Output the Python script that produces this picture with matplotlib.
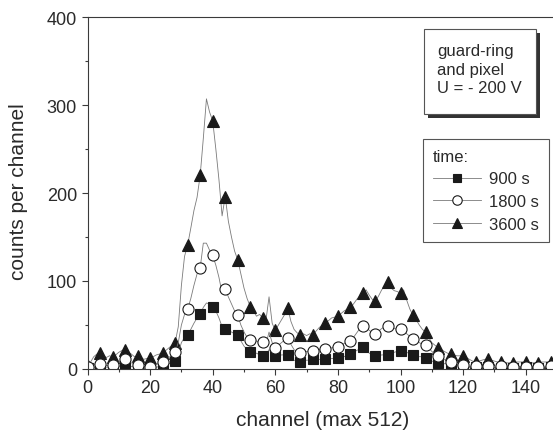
"""Spectra for guard-ring and pixel at U = -200 V, three measuring times."""

import matplotlib

matplotlib.use("Agg")
import matplotlib.pyplot as plt
from matplotlib.patches import Rectangle
from matplotlib.ticker import MultipleLocator

# counts per channel, channels 0..149 (markers on every 4th channel)
counts_900 = [
    1, 1, 2, 2, 2, 2, 2, 2, 2, 3, 3, 4, 4, 3, 3, 2, 2, 2, 1, 1,
    1, 2, 2, 3, 3, 4, 6, 7, 9, 18, 30, 36, 39, 45, 52, 58, 62, 70, 75, 74,
    71, 66, 58, 48, 45, 44, 42, 40, 39, 32, 26, 22, 19, 17, 18, 16, 15, 16, 22, 17,
    15, 15, 16, 16, 16, 13, 10, 9, 8, 9, 10, 10, 11, 11, 11, 11, 11, 12, 12, 12,
    12, 13, 14, 16, 17, 19, 21, 23, 25, 22, 18, 16, 15, 15, 16, 16, 16, 18, 19, 20,
    21, 20, 19, 17, 16, 15, 14, 14, 13, 11, 9, 8, 7, 7, 6, 6, 6, 5, 4, 3,
    2, 2, 2, 2, 2, 2, 1, 1, 2, 2, 1, 1, 1, 1, 2, 2, 1, 1, 1, 1,
    2, 2, 1, 1, 1, 1, 2, 2, 2, 1,
]
counts_1800 = [
    2, 3, 5, 6, 6, 5, 4, 4, 4, 6, 8, 10, 11, 9, 7, 6, 5, 4, 3, 2,
    2, 3, 5, 7, 8, 10, 13, 16, 19, 30, 50, 62, 68, 80, 95, 108, 115, 143, 143, 135,
    129, 118, 104, 86, 91, 82, 74, 66, 61, 50, 42, 36, 33, 30, 32, 29, 31, 28, 42, 30,
    24, 27, 30, 33, 35, 28, 22, 19, 18, 19, 20, 20, 21, 22, 22, 23, 23, 24, 24, 25,
    25, 27, 29, 31, 32, 36, 41, 46, 49, 48, 44, 41, 40, 43, 46, 48, 49, 47, 46, 45,
    45, 44, 40, 37, 34, 32, 30, 28, 27, 24, 20, 17, 15, 13, 11, 9, 8, 6, 5, 4,
    4, 3, 3, 3, 3, 3, 2, 2, 3, 3, 2, 2, 3, 3, 2, 2, 2, 3, 3, 2,
    2, 2, 3, 3, 2, 2, 2, 3, 3, 2,
]
counts_3600 = [
    3, 8, 14, 17, 18, 16, 13, 15, 14, 16, 19, 21, 22, 19, 17, 14, 15, 13, 11, 12,
    12, 14, 16, 17, 18, 21, 24, 27, 30, 48, 95, 128, 141, 160, 180, 195, 220, 262, 307, 292,
    282, 250, 215, 174, 196, 168, 150, 134, 124, 108, 92, 80, 71, 66, 60, 62, 58, 55, 82, 52,
    44, 50, 56, 62, 69, 54, 45, 41, 39, 40, 38, 40, 39, 43, 47, 50, 52, 55, 58, 59,
    60, 63, 66, 68, 70, 74, 79, 83, 86, 90, 84, 79, 77, 83, 90, 95, 99, 92, 89, 88,
    86, 90, 78, 68, 61, 56, 50, 45, 42, 36, 30, 27, 24, 22, 20, 18, 17, 16, 15, 15,
    15, 13, 11, 9, 8, 9, 10, 11, 11, 10, 9, 8, 8, 8, 7, 7, 7, 8, 8, 8,
    8, 7, 7, 7, 7, 8, 8, 8, 8, 7,
]
channels = list(range(len(counts_3600)))

series = [
    ("3600 s", counts_3600, "^", "#1a1a1a", 8.6),
    ("900 s", counts_900, "s", "#1a1a1a", 7.0),
    ("1800 s", counts_1800, "o", "white", 8.0),
]
legend_order = ["900 s", "1800 s", "3600 s"]
info_text = "guard-ring\nand pixel\nU = - 200 V"

W, H = 553, 439
plt.rcParams["font.family"] = ["Liberation Sans", "DejaVu Sans"]
text_color = "#2a2a2a"
axis_color = "#3a3a3a"


def fx(px):
    return px / W


def fy(py):
    return 1 - py / H


fig = plt.figure(figsize=(W / 100, H / 100), dpi=100)
ax = fig.add_axes([fx(87.5), fy(370), fx(557 - 87.5), (370 - 18) / H])

handles = {}
for label, values, marker, face, size in series:
    (line,) = ax.plot(
        channels,
        values,
        color="#7a7a7a",
        linewidth=0.6,
        marker=marker,
        markevery=4,
        markersize=size,
        markerfacecolor=face,
        markeredgecolor="#1a1a1a",
        markeredgewidth=0.8,
        label=label,
    )
    handles[label] = line

ax.set_xlim(0, 150)
ax.set_ylim(0, 400)
ax.xaxis.set_major_locator(MultipleLocator(20))
ax.xaxis.set_minor_locator(MultipleLocator(10))
ax.yaxis.set_major_locator(MultipleLocator(100))
ax.yaxis.set_minor_locator(MultipleLocator(50))
ax.tick_params(which="both", direction="out", color=axis_color, width=0.8,
               labelsize=13, labelcolor=text_color)
ax.tick_params(which="major", length=4.5, pad=3)
ax.tick_params(which="minor", length=2.5)
ax.spines["right"].set_visible(False)
for side in ("left", "bottom", "top"):
    ax.spines[side].set_color(axis_color)
    ax.spines[side].set_linewidth(0.8)

ax.set_xlabel("channel (max 512)", fontsize=15, color=text_color, labelpad=10)
fig.text(fx(19), fy(192), "counts per channel", rotation=90, fontsize=15,
         color=text_color, ha="center", va="center")

# info box with drop shadow
box_x0, box_y0, box_x1, box_y1 = 424, 30, 536, 115
fig.patches.append(Rectangle((fx(box_x0 + 4), fy(box_y1 + 4)), fx(box_x1 - box_x0),
                             (box_y1 - box_y0) / H, transform=fig.transFigure,
                             facecolor="#333333", edgecolor="none", zorder=5))
fig.patches.append(Rectangle((fx(box_x0), fy(box_y1)), fx(box_x1 - box_x0),
                             (box_y1 - box_y0) / H, transform=fig.transFigure,
                             facecolor="white", edgecolor="#555555", linewidth=0.8,
                             zorder=6))
fig.text(fx(437), fy(44), info_text, fontsize=12, color=text_color, ha="left",
         va="top", linespacing=1.3, zorder=7)

leg = ax.legend(
    [handles[k] for k in legend_order],
    legend_order,
    title="time:",
    loc="upper left",
    bbox_to_anchor=(fx(423), fy(140)),
    bbox_transform=fig.transFigure,
    fontsize=12,
    title_fontsize=12,
    frameon=True,
    fancybox=False,
    framealpha=1,
    edgecolor="#555555",
    handlelength=2.9,
    handletextpad=0.45,
    borderpad=0.6,
    labelspacing=0.45,
    alignment="left",
    borderaxespad=0,
    markerscale=0.85,
)
leg.get_frame().set_linewidth(0.8)
for t in leg.get_texts():
    t.set_color(text_color)
leg.get_title().set_color(text_color)

fig.savefig("out.png", dpi=100)
